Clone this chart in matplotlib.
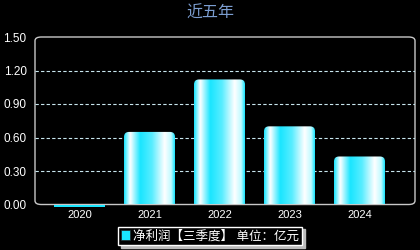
import matplotlib
matplotlib.use("Agg")
import matplotlib.pyplot as plt
import numpy as np
from matplotlib.path import Path
from matplotlib.patches import PathPatch, FancyBboxPatch, Patch
from matplotlib.colors import LinearSegmentedColormap

plt.rcParams['font.family'] = ['Liberation Sans', 'Noto Sans CJK SC', 'DejaVu Sans']

years = ['2020', '2021', '2022', '2023', '2024']
values = [-0.02, 0.65, 1.12, 0.70, 0.43]
yticks = [0.0, 0.3, 0.6, 0.9, 1.2, 1.5]
ytick_labels = ['0.00', '0.30', '0.60', '0.90', '1.20', '1.50']
title = '近五年'
legend_label = '净利润【三季度】 单位：亿元'

W, H = 420, 250
fig = plt.figure(figsize=(W / 100, H / 100), dpi=100, facecolor='black')
L, R, B, T = 35, 415, 204.5, 37
ax = fig.add_axes([L / W, 1 - B / H, (R - L) / W, (B - T) / H])
ax.patch.set_visible(False)

x = np.arange(len(years))
ax.set_xlim(-0.636, 4.793)
ax.set_ylim(0, 1.5)
px_x = (R - L) / (4.793 + 0.636)
px_y = (B - T) / 1.5
bw = 51 / px_x

cyan = (0.10, 0.90, 1.0)
white = (1.0, 1.0, 1.0)
light = (0.75, 0.98, 1.0)
cmap = LinearSegmentedColormap.from_list('cyl', [
    (0.0, cyan), (0.12, white), (0.32, cyan), (0.55, (0.35, 0.93, 1.0)),
    (0.80, white), (0.93, light), (1.0, cyan)])
grad = cmap(np.linspace(0, 1, 200))[None, :, :]

rx = 5 / px_x
ry = 5 / px_y
for xi, v in zip(x, values):
    x0, x1 = xi - bw / 2, xi + bw / 2
    if v <= 0:
        ax.bar(xi, v, width=bw, color=cyan, clip_on=False, zorder=3)
        continue
    verts = [(x0, 0), (x0, v - ry), (x0, v), (x0 + rx, v), (x1 - rx, v),
             (x1, v), (x1, v - ry), (x1, 0), (x0, 0)]
    codes = [Path.MOVETO, Path.LINETO, Path.CURVE3, Path.CURVE3, Path.LINETO,
             Path.CURVE3, Path.CURVE3, Path.LINETO, Path.CLOSEPOLY]
    patch = PathPatch(Path(verts, codes), facecolor='none', edgecolor='none',
                      transform=ax.transData)
    ax.add_patch(patch)
    im = ax.imshow(grad, extent=[x0, x1, 0, v], aspect='auto',
                   interpolation='bilinear', zorder=3)
    im.set_clip_path(patch)

ax.set_xlim(-0.636, 4.793)
ax.set_ylim(0, 1.5)

for yv in yticks[1:-1]:
    ax.axhline(yv, color='#C8E6EE', lw=0.8, ls=(0, (3, 2)), zorder=1)

for s in ax.spines.values():
    s.set_visible(False)

border = FancyBboxPatch((L / W, 1 - B / H), (R - L) / W, (B - T) / H,
                        boxstyle='round,pad=0,rounding_size=0.015',
                        transform=fig.transFigure, facecolor='none',
                        edgecolor='#C8C8C8', lw=1.0, zorder=-1)
fig.patches.append(border)

ax.set_xticks(x)
ax.set_xticklabels(years)
ax.set_yticks(yticks)
ax.set_yticklabels(ytick_labels)
ax.tick_params(axis='both', length=0, colors='white', labelsize=8)
ax.tick_params(axis='y', pad=6, labelsize=8.5)
ax.tick_params(axis='x', pad=4)

fig.text(0.5, 1 - 13 / H, title, color='#7B9DD0', fontsize=11.5,
         ha='center', va='center')

handle = Patch(facecolor=cyan, edgecolor='#222222', lw=0.5)
leg = fig.legend([handle], [legend_label], loc='center',
                 bbox_to_anchor=(210 / W, 1 - 236 / H), frameon=True,
                 fancybox=False, shadow={'color': '#BBBBBB', 'alpha': 1},
                 fontsize=9, labelcolor='white', handlelength=0.7,
                 handleheight=0.9, handletextpad=0.25, borderpad=0.25,
                 borderaxespad=0)
leg.get_frame().set_facecolor('black')
leg.get_frame().set_edgecolor('white')
leg.get_frame().set_linewidth(1.0)

fig.savefig('out.png', dpi=100, facecolor='black')
